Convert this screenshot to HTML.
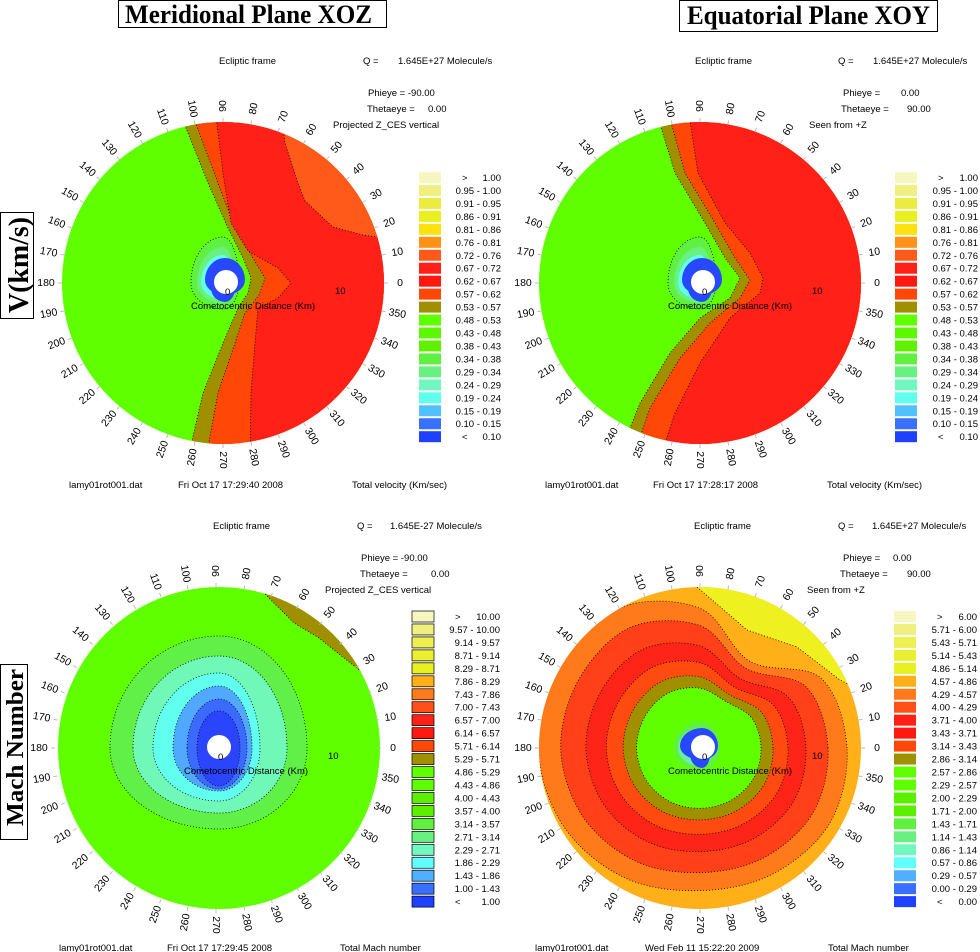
<!DOCTYPE html>
<html><head><meta charset="utf-8"><style>
html,body{margin:0;padding:0;background:#fff}
svg{display:block;font-family:"Liberation Sans",sans-serif}
.t{font-size:9.5px;fill:#000}
.ttl{font-family:"Liberation Serif",serif;font-weight:bold;font-size:26px}
</style></head><body>
<svg id="root" width="980" height="952" viewBox="0 0 980 952" xmlns="http://www.w3.org/2000/svg">
<defs>
<clipPath id="c0"><circle cx="223" cy="283" r="161"/></clipPath>
<clipPath id="c1"><circle cx="700" cy="283" r="161"/></clipPath>
<clipPath id="c2"><circle cx="219" cy="748" r="161"/></clipPath>
<clipPath id="c3"><circle cx="700" cy="748" r="161"/></clipPath>
</defs>
<g>
<rect x="118.5" y="0.5" width="268" height="27" fill="none" stroke="#000"/>
<text class="ttl" x="125" y="23" textLength="247" lengthAdjust="spacingAndGlyphs">Meridional Plane XOZ</text>
<rect x="679.5" y="0.5" width="258" height="31" fill="none" stroke="#000"/>
<text class="ttl" x="687" y="24" textLength="243" lengthAdjust="spacingAndGlyphs">Equatorial Plane XOY</text>
<rect x="0.5" y="212.5" width="33" height="106" fill="none" stroke="#000"/>
<text class="ttl" transform="translate(28,313) rotate(-90)" textLength="96" lengthAdjust="spacingAndGlyphs" style="font-size:28px">V(km/s)</text>
<rect x="0.5" y="664.5" width="27" height="175" fill="none" stroke="#000"/>
<text class="ttl" transform="translate(23,826) rotate(-90)" textLength="157" lengthAdjust="spacingAndGlyphs" style="font-size:24px">Mach Number</text>
</g>

<g>
<text class="t" x="219" y="64">Ecliptic frame</text>
<text class="t" x="363" y="64">Q =</text>
<text class="t" x="398" y="64">1.645E+27 Molecule/s</text>
<text class="t" x="368" y="96">Phieye = -90.00</text>
<text class="t" x="367" y="112">Thetaeye =</text>
<text class="t" x="428" y="112">0.00</text>
<text class="t" x="333" y="128">Projected Z_CES vertical</text>
<text class="t" x="69" y="488">lamy01rot001.dat</text>
<text class="t" x="178" y="488">Fri Oct 17 17:29:40 2008</text>
<text class="t" x="352" y="488">Total velocity (Km/sec)</text>

<text class="t" x="695" y="64">Ecliptic frame</text>
<text class="t" x="838" y="64">Q =</text>
<text class="t" x="873" y="64">1.645E+27 Molecule/s</text>
<text class="t" x="843" y="96">Phieye =</text>
<text class="t" x="901" y="96">0.00</text>
<text class="t" x="841" y="112">Thetaeye =</text>
<text class="t" x="907" y="112">90.00</text>
<text class="t" x="809" y="128">Seen from +Z</text>
<text class="t" x="545" y="488">lamy01rot001.dat</text>
<text class="t" x="653" y="488">Fri Oct 17 17:28:17 2008</text>
<text class="t" x="827" y="488">Total velocity (Km/sec)</text>

<text class="t" x="213" y="529">Ecliptic frame</text>
<text class="t" x="357" y="529">Q =</text>
<text class="t" x="390" y="529">1.645E-27 Molecule/s</text>
<text class="t" x="361" y="561">Phieye = -90.00</text>
<text class="t" x="360" y="577">Thetaeye =</text>
<text class="t" x="431" y="577">0.00</text>
<text class="t" x="325" y="593">Projected Z_CES vertical</text>
<text class="t" x="59" y="951">lamy01rot001.dat</text>
<text class="t" x="167" y="951">Fri Oct 17 17:29:45 2008</text>
<text class="t" x="340" y="951">Total Mach number</text>

<text class="t" x="694" y="529">Ecliptic frame</text>
<text class="t" x="838" y="529">Q =</text>
<text class="t" x="872" y="529">1.645E+27 Molecule/s</text>
<text class="t" x="843" y="561">Phieye =</text>
<text class="t" x="893" y="561">0.00</text>
<text class="t" x="840" y="577">Thetaeye =</text>
<text class="t" x="907" y="577">90.00</text>
<text class="t" x="807" y="593">Seen from +Z</text>
<text class="t" x="535" y="951">lamy01rot001.dat</text>
<text class="t" x="645" y="951">Wed Feb 11 15:22:20 2009</text>
<text class="t" x="828" y="951">Total Mach number</text>
</g>
<g id="plots"></g>
</svg>
<script>
// ---- legend data ----
const vBounds = [1.00,0.95,0.91,0.86,0.81,0.76,0.72,0.67,0.62,0.57,0.53,0.48,0.43,0.38,0.34,0.29,0.24,0.19,0.15,0.10];
const vColors = ['#f6f6c0','#f0f080','#ecec40','#e8f020','#ffe010','#ff9018','#ff5a1a','#ff2018','#ff1810','#ff4808','#a09000','#60ff00','#5cf800','#60f000','#60f040','#68f080','#70f8c0','#60ffee','#50c0ff','#3a70ff','#2040ff'];
const machXozBounds = [10.00,9.57,9.14,8.71,8.29,7.86,7.43,7.00,6.57,6.14,5.71,5.29,4.86,4.43,4.00,3.57,3.14,2.71,2.29,1.86,1.43,1.00];
const machXoyBounds = [6.00,5.71,5.43,5.14,4.86,4.57,4.29,4.00,3.71,3.43,3.14,2.86,2.57,2.29,2.00,1.71,1.43,1.14,0.86,0.57,0.29,0.00];
const machColors = ['#f6f6c0','#f0f080','#eef050','#eaf030','#e8f020','#ffb018','#ff7a1a','#ff5018','#ff2018','#ff1810','#ff4808','#a09000','#60ff00','#60ff00','#5cf000','#5cf000','#60f040','#68f080','#70f8c0','#60ffff','#50b0ff','#3a70ff','#2040ff'];
const angleTicks = [0,10,20,30,40,50,60,70,80,90,100,110,120,130,140,150,160,170,180,190,200,210,220,230,240,250,260,270,280,290,300,310,320,330,340,350];
const xozL1 = [[-45,-175],[-15,-100],[5,-55],[20,-25],[28,-5],[25,10],[15,25],[0,60],[-20,110],[-35,175]];
const xozL2 = [[-33,-175],[-5,-100],[12,-55],[30,-25],[42,-5],[36,12],[22,30],[12,60],[-5,110],[-17,175]];
const xozL3 = [[-8,-175],[0,-110],[8,-60],[25,-32],[55,-15],[68,0],[55,15],[35,25],[32,60],[28,110],[27,175]];
const xozL4 = [[58,-175],[62,-140],[75,-100],[82,-82],[110,-56],[140,-48],[175,-43]];
const xoyL1 = [[-45,-175],[-25,-110],[5,-60],[25,-25],[40,-5],[30,15],[0,35],[-30,70],[-60,120],[-82,175]];
const xoyL2 = [[-33,-175],[-15,-110],[15,-60],[35,-25],[50,-3],[40,15],[10,40],[-20,75],[-50,125],[-67,175]];
const xoyL3 = [[-12,-175],[-2,-110],[25,-60],[50,-30],[63,-5],[60,10],[30,35],[0,80],[-25,130],[-40,175]];

const NS='http://www.w3.org/2000/svg';
const plots=document.getElementById('plots');
function mk(tag,parent){const e=document.createElementNS(NS,tag);parent.appendChild(e);return e;}
function polyD(cx,cy,pts){return 'M'+pts.map(p=>(cx+p[0])+','+(cy+p[1])).join(' L')+' Z';}
function rightOf(line){return line.concat([[260,200],[260,-200]]);}
function blobD(cx,cy,l,r,t,b){
  return `M${cx+l},${cy} A${-l},${-t} 0 0 1 ${cx},${cy+t} A${r},${-t} 0 0 1 ${cx+r},${cy} A${r},${b} 0 0 1 ${cx},${cy+b} A${-l},${b} 0 0 1 ${cx+l},${cy} Z`;
}
function polarD(cx,cy,radii){
  const n=radii.length,P=[];
  for(let i=0;i<n;i++){const a=i*2*Math.PI/n;P.push([cx+radii[i]*Math.cos(a),cy-radii[i]*Math.sin(a)]);}
  let d='M'+P[0][0].toFixed(1)+','+P[0][1].toFixed(1);
  for(let i=0;i<n;i++){
    const p0=P[(i-1+n)%n],p1=P[i],p2=P[(i+1)%n],p3=P[(i+2)%n];
    const c1=[p1[0]+(p2[0]-p0[0])/6,p1[1]+(p2[1]-p0[1])/6],c2=[p2[0]-(p3[0]-p1[0])/6,p2[1]-(p3[1]-p1[1])/6];
    d+=` C${c1[0].toFixed(1)},${c1[1].toFixed(1)} ${c2[0].toFixed(1)},${c2[1].toFixed(1)} ${p2[0].toFixed(1)},${p2[1].toFixed(1)}`;
  }
  return d+'Z';
}
function region(g,d,fill,name,dotted){
  const p=mk('path',g);
  
  
  p.setAttribute('d',d);p.setAttribute('fill',fill);
  if(dotted){p.setAttribute('stroke','#000');p.setAttribute('stroke-width','0.8');p.setAttribute('stroke-dasharray','1 2');}
}
function panel(idx,cx,cy,name){
  const g=mk('g',plots);
  
  
  const f=mk('g',g);
  
  
  f.setAttribute('clip-path',`url(#c${idx})`);
  return {g,f};
}
function overlay(g,cx,cy){
  const w=mk('circle',g);
  
  
  w.setAttribute('cx',cx+3);w.setAttribute('cy',cy-1);w.setAttribute('r',12);w.setAttribute('fill','#fff');
  const z=mk('text',g);
  
  
  z.setAttribute('class','t');z.setAttribute('x',cx+2);z.setAttribute('y',cy+12);z.textContent='0';
  const ten=mk('text',g);
  
  
  ten.setAttribute('class','t');ten.setAttribute('x',cx+112);ten.setAttribute('y',cy+11);ten.textContent='10';
  const ax=mk('text',g);
  
  
  ax.setAttribute('class','t');ax.setAttribute('x',cx-32);ax.setAttribute('y',cy+26);ax.textContent='Cometocentric Distance (Km)';
  for(const a of angleTicks){
    const r=Math.PI*a/180,R=177;
    const x=cx+R*Math.cos(r),y=cy-R*Math.sin(r);
    const rot=(a<=90||a>=270)?-a:180-a;
    const t=mk('text',g);
    
    
    t.setAttribute('class','t');t.setAttribute('text-anchor','middle');t.setAttribute('dominant-baseline','central');
    t.setAttribute('transform',`translate(${x.toFixed(1)},${y.toFixed(1)}) rotate(${rot})`);
    t.style.fontSize='10.5px';
    t.textContent=String(a);
    const tk=mk('line',g);
    
    
    tk.setAttribute('x1',cx+161*Math.cos(r));tk.setAttribute('y1',cy-161*Math.sin(r));
    tk.setAttribute('x2',cx+165*Math.cos(r));tk.setAttribute('y2',cy-165*Math.sin(r));
    tk.setAttribute('stroke','#bbb');
  }
}
function legend(x0,y0,xEnd,bounds,colors,boxed){
  const g=mk('g',plots);
  
  
  const n=colors.length;
  for(let i=0;i<n;i++){
    const y=y0+i*12.96;
    const s=mk('rect',g);
    
    
    s.setAttribute('x',x0);s.setAttribute('y',y);s.setAttribute('width',22);s.setAttribute('height',11);s.setAttribute('fill',colors[i]);
    if(boxed){s.setAttribute('stroke','#000');s.setAttribute('stroke-width','0.7');}
    const t=mk('text',g);
    
    
    t.setAttribute('class','t');t.setAttribute('y',y+9);
    if(i===0||i===n-1){
      const sym=mk('text',g);
      
      
      sym.setAttribute('class','t');sym.setAttribute('x',x0+43);sym.setAttribute('y',y+9);
      sym.textContent=i===0?'>':'<';
      t.setAttribute('x',xEnd);t.setAttribute('text-anchor','end');
      t.textContent=(i===0?bounds[0]:bounds[n-2]).toFixed(2);
    } else {
      t.setAttribute('x',xEnd);t.setAttribute('text-anchor','end');
      t.textContent=bounds[i].toFixed(2)+' - '+bounds[i-1].toFixed(2);
    }
  }
}
function centerBlobs(f,cx,cy){
  region(f,blobD(cx,cy,-32,16,-46,26),'#60f040','inner-ring-1',true);
  region(f,blobD(cx,cy,-26,12,-36,20),'#68f080','inner-ring-2',false);
  region(f,blobD(cx,cy,-22,10,-28,16),'#60ffee','inner-ring-3',false);
  region(f,blobD(cx+2,cy-3,-20,20,-22,15),'#2848ff','core-blue',false);
  region(f,blobD(cx+2,cy+5,-14,10,-5,14),'#2848ff','core-blue-tail',false);
}
(function(){const cx=223,cy=283;const {g,f}=panel(0,cx,cy,'panel-velocity-xoz');
  region(f,`M${cx-170},${cy-170}h340v340h-340Z`,'#60ff00','region-green');
  region(f,polyD(cx,cy,rightOf(xozL1)),'#a09000','region-olive',true);
  region(f,polyD(cx,cy,rightOf(xozL2)),'#ff4808','region-orange',true);
  region(f,polyD(cx,cy,rightOf(xozL3)),'#ff2018','region-red',true);
  region(f,polyD(cx,cy,xozL4.concat([[200,-200],[40,-200]])),'#ff5a1a','region-orange-top',true);
  centerBlobs(f,cx,cy);overlay(g,cx,cy);
})();
(function(){const cx=700,cy=283;const {g,f}=panel(1,cx,cy,'panel-velocity-xoy');
  region(f,`M${cx-170},${cy-170}h340v340h-340Z`,'#60ff00','region-green');
  region(f,polyD(cx,cy,rightOf(xoyL1)),'#a09000','region-olive',true);
  region(f,polyD(cx,cy,rightOf(xoyL2)),'#ff4808','region-orange',true);
  region(f,polyD(cx,cy,rightOf(xoyL3)),'#ff2018','region-red',true);
  centerBlobs(f,cx,cy);overlay(g,cx,cy);
})();
const machXozRings = [[-109,88,-112,81],[-86,68,-92,65],[-66,41,-75,53],[-46,33,-62,43],[-32,28,-49,41],[-22,21,-37,38]];
const machXozRingColors = ['#60f048','#70f8b8','#60ffee','#50a8ff','#3a6aff','#2a44ff'];
(function(){const cx=219,cy=748;const {g,f}=panel(2,cx,cy,'panel-mach-xoz');
  region(f,`M${cx-170},${cy-170}h340v340h-340Z`,'#60ff00','region-green');
  region(f,polyD(cx,cy,[[36,-165],[50,-150],[75,-125],[100,-110],[125,-90],[148,-72],[200,-60],[200,-200],[36,-200]]),'#a09000','region-olive-corner',true);
  machXozRings.forEach((e,i)=>region(f,blobD(cx,cy,e[0],e[1],e[2],e[3]),machXozRingColors[i],'mach-ring',true));
  overlay(g,cx-3,cy);
})();
const machXoyRingScale = [147,128,106,88,73,61];
const machXoyShape = [1.0,0.95,0.68,0.95,1.1,1.1,1.1,1.07,1.02,0.97,0.99,1.02];
const machXoyRingColors = ['#ff7a1a','#ff4018','#ff2418','#ff4a10','#a09000','#60ff00'];
(function(){const cx=700,cy=748;const {g,f}=panel(3,cx,cy,'panel-mach-xoy');
  region(f,`M${cx-170},${cy-170}h340v340h-340Z`,'#ffb018','region-yellow-orange');
  region(f,polyD(cx,cy,[[-3,-170],[-3,-161],[47,-118],[97,-101],[140,-68],[175,-50],[200,-200]]),'#eef020','region-yellow',true);
  machXoyRingScale.forEach((s,k)=>{
    const w=1-k*0.12;
    const radii=machXoyShape.map(v=>s*(1+(v-1)*w));
    region(f,polarD(cx,cy,radii),machXoyRingColors[k],'mach-ring',true);
  });
  region(f,blobD(cx,cy,-26,20,-26,22),'#60f040','inner-ring-1',false);
  region(f,blobD(cx,cy,-22,14,-20,18),'#68f0a0','inner-ring-2',false);
  region(f,blobD(cx+2,cy-2,-22,16,-18,14),'#2848ff','core-blue',false);
  region(f,blobD(cx+2,cy+6,-12,8,-4,14),'#2848ff','core-blue-tail',false);
  overlay(g,cx,cy);
})();
legend(419,172,501,vBounds,vColors,false);
legend(895,172,978,vBounds,vColors,false);
legend(412,611,500,machXozBounds,machColors,true);
legend(894,611,977,machXoyBounds,machColors,false);
</script>
</body></html>
